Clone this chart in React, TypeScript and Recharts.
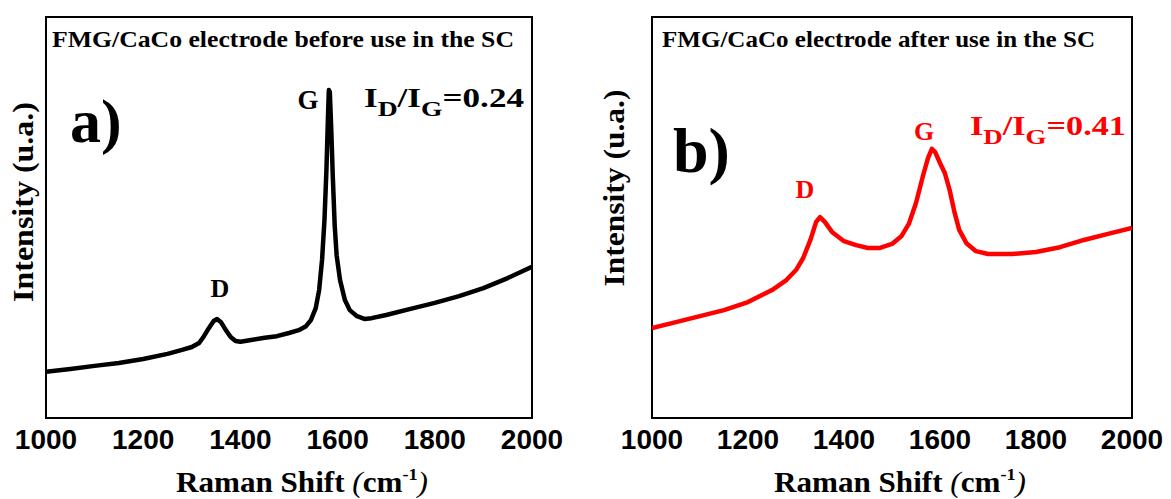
import React from 'react';
import { LineChart, Line, XAxis, YAxis, ReferenceArea } from 'recharts';

// Raman shift ticks shared by both panels
const xTicks = [1000, 1200, 1400, 1600, 1800, 2000];

// electrode before use (arbitrary intensity, 0-100 over the frame)
const shiftBefore = [
  1000, 1050, 1100, 1150, 1200, 1250, 1280, 1300, 1315, 1325, 1335, 1345, 1352, 1360, 1370,
  1380, 1390, 1400, 1425, 1450, 1475, 1500, 1520, 1535, 1545, 1555, 1562, 1568, 1573, 1577,
  1580, 1582, 1584, 1587, 1590, 1594, 1598, 1605, 1615, 1625, 1640, 1655, 1670, 1700, 1750,
  1800, 1850, 1900, 1950, 2000,
];
const intensityBefore = [
  11.5, 12.2, 13.0, 13.7, 14.7, 16.0, 17.0, 17.7, 18.7, 20.4, 22.4, 24.2, 24.7, 23.9, 21.9,
  20.2, 19.2, 19.0, 19.5, 20.0, 20.4, 21.2, 21.9, 22.9, 24.4, 27.4, 31.9, 39.4, 49.4, 61.8,
  74.3, 81.8, 81.3, 71.8, 60.6, 48.1, 40.6, 34.4, 29.4, 26.9, 25.4, 24.7, 24.9, 25.7, 27.2,
  28.7, 30.4, 32.4, 34.9, 37.7,
];

// electrode after use
const shiftAfter = [
  1000, 1050, 1100, 1150, 1200, 1250, 1280, 1300, 1315, 1330, 1342, 1350, 1360, 1375, 1400,
  1425, 1450, 1475, 1500, 1520, 1535, 1550, 1565, 1575, 1583, 1590, 1600, 1610, 1620, 1630,
  1640, 1655, 1675, 1700, 1750, 1800, 1850, 1900, 1950, 2000,
];
const intensityAfter = [
  22.4, 23.9, 25.4, 26.9, 28.9, 31.9, 34.4, 36.9, 39.9, 44.4, 48.9, 50.1, 48.9, 46.4, 44.1,
  43.1, 42.4, 42.4, 43.4, 45.4, 48.4, 53.6, 60.6, 64.8, 67.1, 66.3, 63.6, 61.1, 56.9, 51.4,
  46.9, 43.6, 41.6, 40.9, 40.9, 41.4, 42.6, 44.4, 45.9, 47.4,
];

const toRows = (xs: number[], ys: number[]) => xs.map((x, i) => ({ x, y: ys[i] }));

const serif = "'Liberation Serif', 'Times New Roman', Tinos, Times, serif";
const sans = "'Liberation Sans', Arial, Arimo, Helvetica, sans-serif";

const Tick = (props: any) => {
  const { x, y, payload } = props;
  return (
    <text x={x} y={y + 31} textAnchor="middle" style={{ fontFamily: sans, fontWeight: 'bold', fontSize: 28 }} fill="#000">
      {payload.value}
    </text>
  );
};

interface PanelProps {
  data: { x: number; y: number }[];
  color: string;
  width: number;
  left: number;
  right: number;
}

const Panel: React.FC<PanelProps> = ({ data, color, width, left, right }) => (
  <LineChart width={width} height={499} data={data} margin={{ top: 17, right, bottom: 31, left }}>
    <XAxis
      dataKey="x"
      type="number"
      domain={[1000, 2000]}
      ticks={xTicks}
      tick={<Tick />}
      tickLine={false}
      tickSize={0}
      tickMargin={0}
      height={50}
      axisLine={false}
      allowDataOverflow
    />
    <YAxis type="number" domain={[0, 100]} hide />
    {/* plot frame */}
    <ReferenceArea x1={1000} x2={2000} y1={0} y2={100} fill="none" stroke="#000" strokeWidth={2} ifOverflow="visible" />
    <Line
      type="linear"
      dataKey="y"
      stroke={color}
      strokeWidth={4.5}
      strokeLinejoin="round"
      dot={false}
      isAnimationActive={false}
    />
  </LineChart>
);

const bold = { fontFamily: serif, fontWeight: 'bold' as const };

const Ratio = ({ x, y, value, color, length }: { x: number; y: number; value: string; color: string; length: number }) => (
  <text x={x} y={y} style={{ ...bold, fontSize: 28 }} fill={color} textLength={length} lengthAdjust="spacingAndGlyphs">
    I<tspan style={{ fontSize: 22 }} dy={9}>D</tspan>
    <tspan dy={-9}>/I</tspan>
    <tspan style={{ fontSize: 22 }} dy={9}>G</tspan>
    <tspan dy={-9}>={value}</tspan>
  </text>
);

const AxisTitle = ({ cx }: { cx: number }) => (
  <text x={cx} y={492} textAnchor="middle" style={{ ...bold, fontSize: 29 }} fill="#000" textLength={252} lengthAdjust="spacingAndGlyphs">
    Raman Shift <tspan style={{ fontStyle: 'italic', fontWeight: 'normal' }}>(</tspan>cm
    <tspan style={{ fontSize: 17 }} dy={-12}>-1</tspan>
    <tspan dy={12} style={{ fontStyle: 'italic', fontWeight: 'normal' }}>)</tspan>
  </text>
);

const YTitle = ({ x, cy, length }: { x: number; cy: number; length: number }) => (
  <text
    transform={`translate(${x},${cy}) rotate(-90)`}
    textAnchor="middle"
    style={{ ...bold, fontSize: 29 }}
    fill="#000"
    textLength={length}
    lengthAdjust="spacingAndGlyphs"
  >
    Intensity (u.a.)
  </text>
);

export default function App() {
  const before = toRows(shiftBefore, intensityBefore);
  const after = toRows(shiftAfter, intensityAfter);
  const red = '#ff0000';

  return (
    <div style={{ position: 'absolute', left: 0, top: 0, width: 1171, height: 499, background: '#fff' }}>
      <div style={{ position: 'absolute', left: 0, top: 0 }}>
        <Panel data={before} color="#000" width={590} left={46} right={58} />
      </div>
      <div style={{ position: 'absolute', left: 590, top: 0 }}>
        <Panel data={after} color={red} width={581} left={62} right={39} />
      </div>

      <svg width={1171} height={499} style={{ position: 'absolute', left: 0, top: 0, pointerEvents: 'none' }}>
        {/* panel a */}
        <text x={52} y={47} style={{ ...bold, fontSize: 23 }} fill="#000" textLength={462} lengthAdjust="spacingAndGlyphs">
          FMG/CaCo electrode before use in the SC
        </text>
        <text x={70} y={142} style={{ ...bold, fontSize: 62 }} fill="#000">a)</text>
        <text x={220} y={297} textAnchor="middle" style={{ ...bold, fontSize: 26 }} fill="#000">D</text>
        <text x={308} y={109} textAnchor="middle" style={{ ...bold, fontSize: 27 }} fill="#000">G</text>
        <Ratio x={364} y={107} value="0.24" color="#000" length={160} />
        <YTitle x={33} cy={202} length={200} />
        <AxisTitle cx={302} />

        {/* panel b */}
        <text x={662} y={47} style={{ ...bold, fontSize: 23 }} fill="#000" textLength={433} lengthAdjust="spacingAndGlyphs">
          FMG/CaCo electrode after use in the SC
        </text>
        <text x={673} y={172} style={{ ...bold, fontSize: 64 }} fill="#000">b)</text>
        <text x={805} y={198} textAnchor="middle" style={{ ...bold, fontSize: 26 }} fill={red}>D</text>
        <text x={924} y={140} textAnchor="middle" style={{ ...bold, fontSize: 26 }} fill={red}>G</text>
        <Ratio x={970} y={135} value="0.41" color={red} length={156} />
        <YTitle x={624} cy={188} length={197} />
        <AxisTitle cx={900} />
      </svg>
    </div>
  );
}
